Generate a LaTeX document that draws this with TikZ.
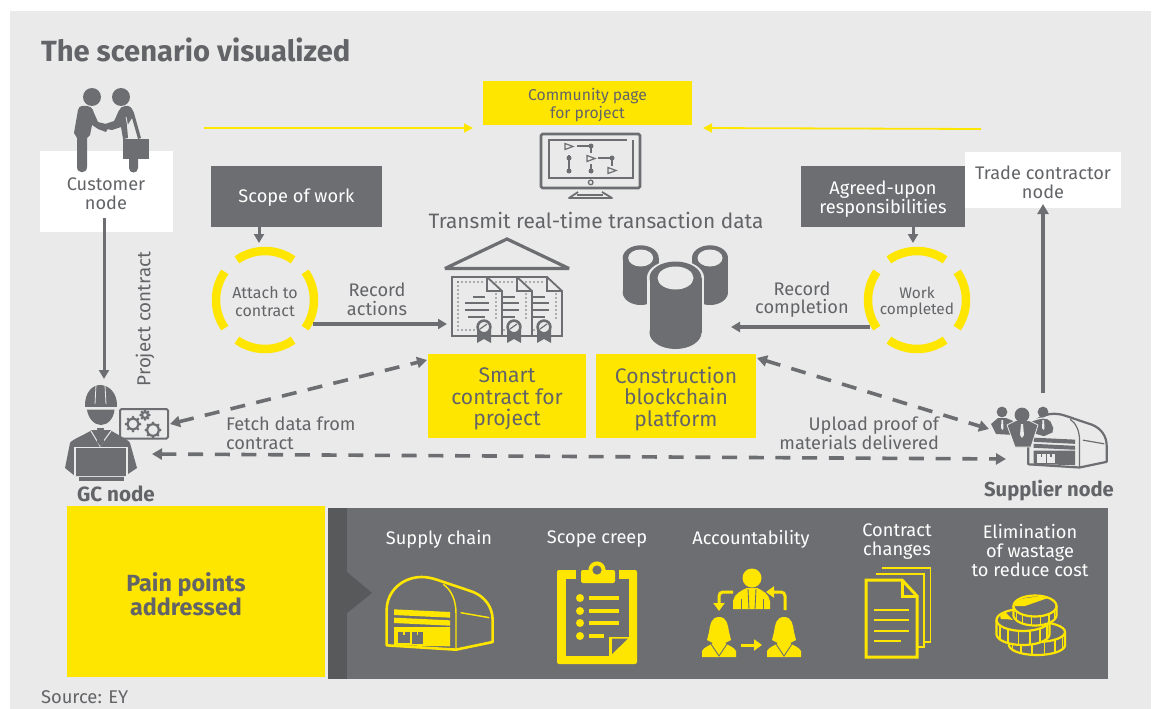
\documentclass[tikz,border=0pt]{standalone}
\usepackage{fontspec}
\setmainfont{Fira Sans}
\usetikzlibrary{arrows.meta}
\definecolor{bgc}{HTML}{EAEAEA}
\definecolor{gry}{HTML}{6D6E71}
\definecolor{txt}{HTML}{636467}
\definecolor{dk}{HTML}{58595B}
\definecolor{yel}{HTML}{FFE600}
\newcommand{\fs}[2]{\fontsize{#1}{#2}\selectfont}
\tikzset{
 x=1pt,y=-1pt,
 box/.style={inner sep=0pt,outer sep=0pt,align=center,text=txt},
 darkbox/.style={box,fill=gry},
 whitebox/.style={box,fill=white},
 yellowbox/.style={box,fill=yel},
 lab/.style={box,font=\fs{18.2}{18.6}},
 whitelab/.style={box,text=white,font=\fs{18.2}{19}},
 ringnode/.style={box,circle,minimum size=107pt,font=\fs{16}{18}},
 iconspot/.style={inner sep=0pt,outer sep=0pt,rectangle},
 solidarrow/.style={draw=gry,line width=3.2pt,-{Triangle[length=9pt,width=10pt]}},
 dasharrow/.style={draw=gry,line width=3.6pt,dash pattern=on 15pt off 11.5pt,{Triangle[length=10pt,width=11pt]}-{Triangle[length=10pt,width=11pt]}},
 yelarrow/.style={draw=yel,line width=1.8pt,-{Triangle[length=9pt,width=9pt]}},
 ringarc/.style={draw=yel,line width=8.5pt},
}
\newcommand{\RingArcs}[2]{%
 \foreach \c in {0,90,180,270}{
  \draw[ringarc] plot[domain=\c-35:\c+35,samples=30] ({#1+49*cos(\x)},{#2+49*sin(\x)});
 }}
% warehouse icon, drawn in 3x coordinates of the reference crop
\newcommand{\IconWarehouse}[6]{%
 \begin{scope}[shift={(#1,#2)},scale=#3/3,shift={(-165,-197)}]
  \draw[#4,line width=#6pt,line join=round] (170,405) -- (170,300) .. controls (170,240) and (220,200) .. (275,200) .. controls (290,200) and (305,203) .. (320,208) -- (430,245) .. controls (465,260) and (488,290) .. (488,330) -- (488,395) -- (378,418) -- cycle;
  \draw[#4,line width=0.55*#6pt] (340,222) .. controls (365,240) and (378,270) .. (378,310) -- (378,418);
  \draw[#4,line width=0.55*#6pt] (392,307) -- (478,322);
  \fill[#4] (192,297) -- (360,305) -- (360,322) -- (192,314) -- cycle;
  \fill[#4] (192,322) -- (360,330) -- (360,346) -- (192,338) -- cycle;
  \fill[#4] (192,350) -- (360,350) -- (360,408) -- (192,405) -- cycle;
  \fill[#5] (205,365) rectangle (240,398);
  \fill[#5] (245,365) rectangle (280,400);
  \fill[#4] (220,365) rectangle (225,375);
  \fill[#4] (260,365) rectangle (265,375);
 \end{scope}}
% contract sheet
\newcommand{\IconSheet}[1]{%
 \begin{scope}[shift={(#1,0)}]
  \draw[gry,fill=bgc,line width=1.8pt,line join=miter] (452,277) -- (487,277) -- (502,291) -- (502,336) -- (452,336) -- cycle;
  \draw[gry,line width=1.8pt] (487,277) -- (487,291) -- (502,291);
  \draw[gry,line width=1.8pt,line cap=round,dash pattern=on 0pt off 4pt] (458,282) -- (483,282);
  \draw[gry,line width=1.8pt,line cap=round,dash pattern=on 0pt off 4pt] (458,282) -- (458,330) -- (476,330);
  \draw[gry,line width=1.8pt,line cap=round,dash pattern=on 0pt off 4pt] (496,294) -- (496,320);
  \draw[gry,line width=1.4pt] (473,297) -- (485,297) (465,303) -- (489,303) (465,310) -- (489,310) (468,317) -- (485,317);
  \fill[gry] (477,330) -- (477,343) -- (484,339) -- (491,343) -- (491,330) -- cycle;
  \draw[gry,fill=bgc,line width=2.6pt] (484,327) circle[radius=6.4pt];
  \draw[gry,line width=1.2pt] (480,329) -- (487,324);
 \end{scope}}
\newcommand{\IconCylinder}[6]{%
 \fill[#6] (#1-#3,#2) rectangle (#1+#3,#5-#4);
 \fill[#6] (#1,#5-#4) ellipse[x radius=#3 pt,y radius=#4 pt];
 \fill[#6] (#1,#2) ellipse[x radius=#3 pt,y radius=#4 pt];}
\newcommand{\IconGear}[3]{%
 \foreach \g in {0,45,...,315}{
  \fill[gry] ({#1+(#3+1.4)*cos(\g)},{#2+(#3+1.4)*sin(\g)}) circle[radius=1.5pt];}
 \draw[gry,line width=2.2pt] (#1,#2) circle[radius=#3 pt];}
\newcommand{\IconWoman}[1]{%
 \begin{scope}[shift={(#1,0)}]
  \fill[yel] (0,617) .. controls (8,617) and (9,625) .. (10,632) -- (12,640) -- (6,643) -- (-6,643) -- (-12,640) -- (-10,632) .. controls (-9,625) and (-8,617) .. (0,617) -- cycle;
  \fill[yel] (-17,657) -- (-17,651) .. controls (-15,647) and (-10,646) .. (-6,643) -- (6,643) .. controls (10,646) and (15,647) .. (17,651) -- (17,657) -- cycle;
  \draw[gry,line width=.9pt] (-8,644) -- (0,656) -- (8,644);
 \end{scope}}
\newcommand{\IconCoin}[5]{%
 \draw[yel,fill=gry,line width=2.2pt,line join=round] plot[domain=180:0,samples=40] ({#1+#3*cos(\x)},{#2+#5+#4*sin(\x)}) -- ({#1+#3},#2) -- ({#1-#3},#2) -- cycle;
 \foreach \a in {25,50,...,155}{
  \draw[yel,line width=1.4pt] ({#1+#3*cos(\a)},{#2+#4*sin(\a)}) -- ++(0,#5);}
 \draw[yel,fill=gry,line width=2.2pt] (#1,#2) ellipse[x radius=#3 pt,y radius=#4 pt];}
\begin{document}
\begin{tikzpicture}
\useasboundingbox (0,0) rectangle (1154,709);
\fill[white] (0,0) rectangle (1154,709);
\fill[bgc] (10,11) rectangle (1151,709);
% ---- title and source
\node[box,anchor=base west,font=\fs{29.2}{32}\bfseries] (title) at (41,62) {The scenario visualized};
\node[box,anchor=base west,font=\fs{18.4}{20}] (source) at (41,703) {Source: EY};
% ---- boxes (fill) and their texts
\node[whitebox,minimum width=133pt,minimum height=81pt] (customer) at (106.5,191.5) {};
\node[lab] (customerlab) at (106,193.5) {Customer\\node};
\node[whitebox,minimum width=156pt,minimum height=56pt] (trade) at (1043,180) {};
\node[lab] (tradelab) at (1043,182.5) {Trade contractor\\node};
\node[yellowbox,minimum width=209pt,minimum height=44pt] (community) at (587.5,103) {};
\node[box,font=\fs{15.7}{18}] (communitylab) at (587.5,105) {Community page\\for project};
\node[darkbox,minimum width=171pt,minimum height=61pt] (scope) at (296.5,196.5) {};
\node[lab,text=white] (scopelab) at (296.5,198) {Scope of work};
\node[darkbox,minimum width=164pt,minimum height=61pt] (agreed) at (883,196.5) {};
\node[lab,text=white,font=\fs{18.2}{19}] (agreedlab) at (883,199.5) {Agreed-upon\\responsibilities};
\node[yellowbox,minimum width=158pt,minimum height=84pt] (smart) at (507,396) {};
\node[box,font=\fs{21.1}{21.6}] (smartlab) at (507,399) {Smart\\contract for\\project};
\node[yellowbox,minimum width=160pt,minimum height=84pt] (blockchain) at (676,396) {};
\node[box,font=\fs{21.1}{21.6}] (blockchainlab) at (676,399) {Construction\\blockchain\\platform};
\node[yellowbox,minimum width=258pt,minimum height=171pt] (pain) at (196,591.5) {};
\node[box,font=\fs{23.4}{24}\bfseries] (painlab) at (186,594) {Pain points\\addressed};
\fill[gry] (328,508) rectangle (1108,679);
\fill[dk] (328,508) rectangle (347,679);
\fill[dk] (347,572) -- (372,593) -- (347,613) -- cycle;
% ---- plain labels
\node[box,font=\fs{20.85}{23}] (transmit) at (596,220) {Transmit real-time transaction data};
\node[lab] (recact) at (377,299.5) {Record\\actions};
\node[lab] (reccomp) at (802,299.5) {Record\\completion};
\node[lab,rotate=90,font=\fs{18.8}{19}] (projcon) at (145,319) {Project contract};
\node[lab,align=left,anchor=west] (fetch) at (226,433.5) {Fetch data from\\contract};
\node[lab,align=right,anchor=east] (upload) at (939,433.5) {Upload proof of\\materials delivered};
\node[box,font=\fs{20.6}{22}\bfseries] (gclab) at (116,494) {GC node};
\node[box,font=\fs{20.2}{22}\bfseries] (suplab) at (1049,491) {Supplier node};
% ---- panel labels
\node[whitelab] (p1) at (439,539) {Supply chain};
\node[whitelab] (p2) at (597,539) {Scope creep};
\node[whitelab] (p3) at (751,539) {Accountability};
\node[whitelab] (p4) at (897,541.5) {Contract\\changes};
\node[whitelab] (p5) at (1030,551) {Elimination\\of wastage\\to reduce cost};
% ---- rings
\node[ringnode] (ringL) at (265,301.5) {Attach to\\contract};
\RingArcs{265}{300}
\node[ringnode,font=\fs{15.4}{16.4}] (ringR) at (917,302.5) {Work\\completed};
\RingArcs{917}{300}
% ---- handshake icon
\node[iconspot,minimum width=75pt,minimum height=84pt] (people) at (112,130) {};
\fill[gry] (92,97) circle[radius=9pt] (121,97) circle[radius=9pt];
\fill[gry] (82,106) .. controls (90,105) and (93,108) .. (94,113) -- (98,122) -- (106,124) -- (109,126) -- (106,132) -- (98,129) -- (92,125) -- (90,135) -- (87,138) -- (87,167) .. controls (87,174) and (77,174) .. (77,167) -- (77,138) -- (74,133) -- (78,110) .. controls (79,107) and (80,106) .. (82,106) -- cycle;
\fill[gry] (125,106) .. controls (130,105) and (132,108) .. (134,113) -- (141,138) -- (138,139) -- (132,118) -- (127,126) -- (128,138) -- (123,139) -- (121,127) -- (112,130) -- (107,129) -- (105,124) -- (114,121) .. controls (118,114) and (119,106) .. (125,106) -- cycle;
\fill[gry] (123,139) rectangle (149,159);
\fill[gry] (129,159) -- (129,168) .. controls (129,174) and (138,174) .. (138,168) -- (138,159) -- cycle;
\draw[bgc,line width=.8pt] (126,117) -- (130,138);
% ---- monitor icon
\node[iconspot,minimum width=101pt,minimum height=66pt] (monitor) at (590.5,166) {};
\draw[gry,line width=2.6pt,rounded corners=1.5pt] (541,134) rectangle (640,188);
\draw[gry,line width=1.8pt] (627,140) -- (549,140) -- (549,178) -- (633,178) -- (633,140);
\draw[gry,line width=1.3pt] (590.7,182.4) circle[radius=2.3pt];
\draw[gry,line width=1.8pt,line join=round] (578,192) -- (569,198) -- (612,198) -- (602,192);
\draw[gry,line width=1.3pt] (577,195) -- (603,195);
\foreach \a/\b in {565/145,587/157,608/169}{
 \draw[gry,line width=1.2pt,line join=miter] (\a,\b-1.5) -- (\a+8,\b+1.5) -- (\a,\b+4.5) -- cycle;}
\draw[gry,line width=1.2pt] (577,146) -- (591,146) (598,158) -- (612,158);
\draw[gry,line width=1.6pt] (591,146) -- (591,153) (569,155) -- (569,171) (591,164) -- (591,171) (612,158) -- (612,166);
\foreach \a/\b in {591/146,569/158,569/171,591/171,612/158}{\fill[gry] (\a,\b) circle[radius=2.5pt];}
% ---- contract icon
\node[iconspot,minimum width=127pt,minimum height=105pt] (docs) at (506.5,291) {};
\draw[gry,line width=3.2pt,line join=miter,miter limit=2] (445,268.5) -- (507,239) -- (569,268.5) -- cycle;
\IconSheet{60}\IconSheet{30}\IconSheet{0}
% ---- database icon
\node[iconspot,minimum width=100pt,minimum height=104pt] (db) at (675.5,296) {};
\IconCylinder{640.7}{258}{18}{12.7}{305}{gry}
\IconCylinder{710}{258}{18}{12.7}{305}{gry}
\fill[bgc] (640.7,258) ellipse[x radius=12.5pt,y radius=8.5pt] (710,258) ellipse[x radius=12.5pt,y radius=8.5pt];
\IconCylinder{675.5}{278}{28.6}{18}{350.5}{bgc}
\IconCylinder{675.5}{278}{26}{16.5}{349}{gry}
\fill[bgc] (675.5,278) ellipse[x radius=18pt,y radius=11.5pt];
% ---- GC icon
\node[iconspot,minimum width=105pt,minimum height=100pt] (gc) at (116,433) {};
\fill[gry] (85,405) .. controls (85,393) and (92,385) .. (100,385) .. controls (109,385) and (117,393) .. (117,405) -- cycle;
\fill[gry] (85,404) rectangle (117,407);
\draw[bgc,line width=.8pt] (96,385) -- (95,404) (105,385) -- (106,404);
\fill[gry] (87,409.5) -- (114.5,409.5) .. controls (114,418) and (108,425) .. (101,425) .. controls (94,425) and (88,418) .. (87,409.5) -- cycle;
\fill[gry] (65,468) -- (70,443) .. controls (71,440) and (84,435) .. (92,430) -- (110,430) .. controls (118,435) and (129,440) .. (130,443) -- (137,468) -- (125,476) -- (75,476) -- cycle;
\draw[bgc,line width=1pt] (91,431) -- (100,446) -- (111,431);
\fill[gry] (97,428) -- (104,428) -- (103,434) -- (104,442) -- (100.5,446) -- (97,442) -- (98,434) -- cycle;
\draw[bgc,line width=1.2pt,fill=gry] (75,475.5) -- (75,447.5) -- (127,447.5) -- (127,475.5);
\fill[gry] (79,477) rectangle (124,481);
\draw[gry,line width=2pt,rounded corners=1.5pt] (120,409) rectangle (168,438.5);
\IconGear{133}{424}{5.6}
\IconGear{153}{430}{5.8}
\IconGear{145}{415}{3}
% ---- supplier icon
\node[iconspot,minimum width=115pt,minimum height=62pt] (sup) at (1049.5,441) {};
\IconWarehouse{1027}{413}{0.74}{gry}{bgc}{2.2}
\draw[bgc,line width=1.2pt,fill=gry] (1031,421) .. controls (1040,418) and (1047,416) .. (1051,421) -- (1054,428) -- (1053,433) -- (1044,437) -- (1034,434) -- cycle;
\fill[gry] (1002,412) circle[radius=5.4pt] (1043,412) circle[radius=5.4pt];
\fill[gry] (991,424) -- (998,418) -- (1006,418) -- (1013,421) -- (1014,435) -- (996,434) -- cycle;
\draw[bgc,line width=.8pt,fill=gry] (1007,425) -- (1016,420.5) -- (1029,420.5) -- (1038,425) -- (1031,447) -- (1015,447) -- cycle;
\fill[gry] (1022,415) circle[radius=7.4pt];
\fill[bgc] (1021,424) -- (1023,424) -- (1024,435) -- (1022,438) -- (1020,435) -- cycle;
\fill[bgc] (1001.5,420) -- (1003,420) -- (1003.5,428) -- (1002.5,430) -- (1001,428) -- cycle;
\fill[bgc] (1042.5,420) -- (1044,420) -- (1044.5,428) -- (1043.5,430) -- (1042,428) -- cycle;
% ---- connectors
\coordinate (handL) at (204,128);
\coordinate (handR) at (981,129);
\coordinate (comL) at (473,128);
\coordinate (comR) at (703,128);
\draw[yelarrow] (handL) -- (comL);
\draw[yelarrow] (handR) -- (comR);
\coordinate (custOut) at (104,218);
\coordinate (gcIn) at (104,379);
\draw[solidarrow,line width=3pt] (custOut) -- (gcIn);
\coordinate (scopeOut) at (259,227);
\coordinate (ringLIn) at (259,243);
\draw[solidarrow,line width=3pt] (scopeOut) -- (ringLIn);
\coordinate (agreedOut) at (913,227);
\coordinate (ringRIn) at (913,243);
\draw[solidarrow,line width=3pt] (agreedOut) -- (ringRIn);
\coordinate (ringLOut) at (313,324);
\coordinate (docsIn) at (447,324);
\draw[solidarrow] (ringLOut) -- (docsIn);
\coordinate (ringROut) at (870,327);
\coordinate (dbIn) at (731,327);
\draw[solidarrow] (ringROut) -- (dbIn);
\coordinate (supOut) at (1043,393);
\coordinate (tradeIn) at (1043,204);
\draw[solidarrow,line width=4pt,-{Triangle[length=10pt,width=11pt]}] (supOut) -- (tradeIn);
\coordinate (gcA) at (170,424);
\coordinate (smartA) at (427,360);
\draw[dasharrow] (gcA) -- (smartA);
\coordinate (gcB) at (152,454);
\coordinate (supB) at (1006,459);
\draw[dasharrow,dash pattern=on 15pt off 11.7pt] (gcB) -- (supB);
\coordinate (supC) at (989,429);
\coordinate (chainC) at (757,358);
\draw[dasharrow] (chainC) -- (supC);
% ---- panel icons
\node[iconspot,minimum width=108pt,minimum height=74pt] (i1) at (439,613) {};
\IconWarehouse{385}{576}{1}{yel}{gry}{2.6}
% clipboard
\node[iconspot,minimum width=80pt,minimum height=103pt] (i2) at (597,613) {};
\fill[yel,rounded corners=2pt] (557,570) rectangle (637,664);
\fill[gry] (566,579) rectangle (629,656);
\fill[gry] (576,568) rectangle (619,579);
\fill[yel,rounded corners=2pt] (581,570) rectangle (615,583);
\fill[yel] (597,570) circle[radius=8.6pt];
\fill[gry] (597,570) circle[radius=4.6pt];
\foreach \b in {598,611,623}{
 \fill[yel] (580,\b) circle[radius=4pt];
 \fill[yel] (589,\b-2) rectangle (619,\b+2);}
\fill[yel] (580,636) circle[radius=4pt];
\fill[yel] (589,634) rectangle (604,638);
\fill[yel] (609,637) rectangle (629,656);
\fill[gry] (612,638.5) -- (628,638.5) -- (612,654) -- cycle;
% accountability
\node[iconspot,minimum width=100pt,minimum height=92pt] (i3) at (751,612) {};
\fill[yel] (752,578) circle[radius=9.5pt];
\fill[yel] (733,609) -- (733,601) .. controls (734,594) and (742,590) .. (747,588) -- (757,588) .. controls (762,590) and (769,594) .. (770,601) -- (770,609) -- cycle;
\draw[gry,line width=.9pt] (748,589) -- (749,609) (756,589) -- (755,609);
\draw[gry,line width=.8pt] (741,609) -- (741,599) (763,609) -- (763,599);
\IconWoman{719}
\IconWoman{784}
\draw[yel,line width=3pt,rounded corners=4pt,-{Triangle[length=8pt,width=11pt]}] (733,592) -- (719,592) -- (719,611);
\draw[yel,line width=3pt,rounded corners=4pt,-{Triangle[length=8pt,width=11pt]}] (785,610) -- (785,592) -- (766,592);
\draw[yel,line width=3pt,-{Triangle[length=8pt,width=11pt]}] (741,645) -- (762,645);
% contract changes
\node[iconspot,minimum width=66pt,minimum height=91pt] (i4) at (898,612) {};
\draw[yel,line width=1.9pt] (882,568) -- (930.5,568) -- (930.5,642) -- (924,642);
\draw[yel,line width=1.9pt] (875.5,574) -- (924,574) -- (924,647) -- (918,647);
\draw[gry,fill=gry] (866,579) rectangle (917,657);
\draw[yel,line width=3pt,line join=miter] (866,580) -- (902,580) -- (917,596) -- (917,657) -- (866,657) -- cycle;
\draw[yel,line width=3pt] (902,580) -- (902,596) -- (917,596);
\draw[yel,line width=1.5pt] (874,610) -- (909,610) (874,620) -- (909,620) (874,631) -- (909,631) (874,641) -- (901,641);
% coins
\node[iconspot,minimum width=72pt,minimum height=65pt] (i5) at (1031,622) {};
\IconCoin{1037}{632}{28}{10}{13}
\IconCoin{1023}{620}{26.5}{11}{14}
\IconCoin{1035}{606}{21.5}{10.5}{9}
\fill[yel] (1025,606) -- (1048,598) .. controls (1040,596) and (1025,597) .. (1016,601) .. controls (1014,603) and (1014,604) .. (1015,606) -- cycle;
\fill[yel] (1006,619) -- (1013,620) -- (1005,612) .. controls (1001,614) and (999,616) .. (1001,619) -- cycle;
\end{tikzpicture}
\end{document}
